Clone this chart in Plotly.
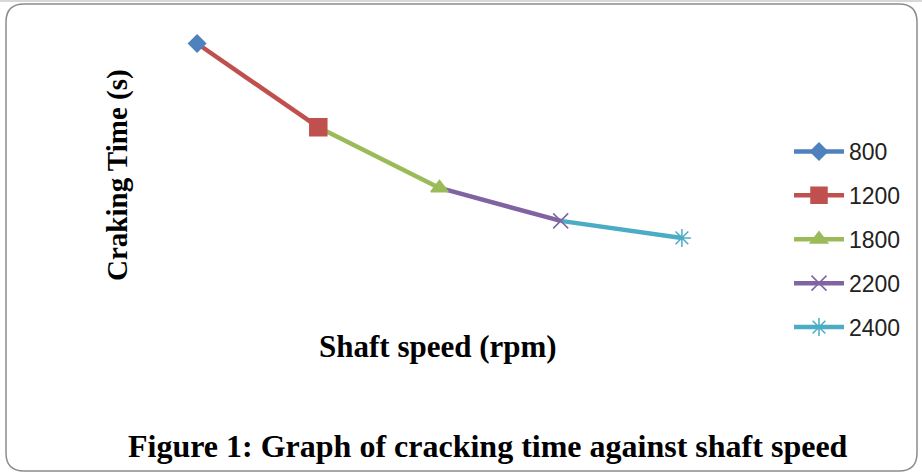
import plotly.graph_objects as go

W, H = 922, 474

series = ["800", "1200", "1800", "2200", "2400"]
cats = [1, 2, 3, 4, 5]
times = [95.0, 64.0, 41.5, 29.3, 23.0]
colors = ["#4F81BD", "#C0504D", "#9BBB59", "#8064A2", "#4BACC6"]
symbols = ["diamond", "square", "triangle-up", "x-thin-open", "asterisk-open"]
msizes = [13, 17, 15, 15, 15]

fig = go.Figure()

# segments: each series draws the line from the previous point to its own point
for i in range(1, len(series)):
    fig.add_trace(go.Scatter(
        x=[cats[i - 1], cats[i]], y=[times[i - 1], times[i]],
        mode="lines", line=dict(color=colors[i], width=4.5),
        showlegend=False, hoverinfo="skip"))

for i, s in enumerate(series):
    fig.add_trace(go.Scatter(
        x=[cats[i]], y=[times[i]], name=s, legendgroup=s,
        mode="lines+markers",
        line=dict(color=colors[i], width=4.5),
        marker=dict(symbol=symbols[i], size=msizes[i], color=colors[i],
                    line=dict(color=colors[i], width=1.5))))

def px(x):
    return x / W

def py(y):
    return 1 - y / H

# rounded frame
x0, y0, x1, y1, r = 6, 4, 917, 471, 18
path = (f"M {px(x0+r)},{py(y0)} L {px(x1-r)},{py(y0)} "
        f"Q {px(x1)},{py(y0)} {px(x1)},{py(y0+r)} "
        f"L {px(x1)},{py(y1-r)} Q {px(x1)},{py(y1)} {px(x1-r)},{py(y1)} "
        f"L {px(x0+r)},{py(y1)} Q {px(x0)},{py(y1)} {px(x0)},{py(y1-r)} "
        f"L {px(x0)},{py(y0+r)} Q {px(x0)},{py(y0)} {px(x0+r)},{py(y0)} Z")
fig.add_shape(type="path", path=path, xref="paper", yref="paper",
              line=dict(color="#8C8C8C", width=1.5), layer="below")
fig.add_shape(type="line", xref="paper", yref="paper",
              x0=0, x1=1, y0=py(1), y1=py(1),
              line=dict(color="#B0B0B0", width=1))

serif = "Liberation Serif"
fig.add_annotation(text="<b>Craking Time (s)</b>", textangle=-90,
                   x=px(117), y=py(175), xref="paper", yref="paper",
                   xanchor="center", yanchor="middle",
                   showarrow=False, font=dict(family=serif, size=29, color="black"))
fig.add_annotation(text="<b>Shaft speed (rpm)</b>",
                   x=px(438), y=py(346), xref="paper", yref="paper",
                   xanchor="center", yanchor="middle",
                   showarrow=False, font=dict(family=serif, size=31, color="black"))
fig.add_annotation(text="<b>Figure 1: Graph of cracking time against shaft speed</b>",
                   x=px(488), y=py(446), xref="paper", yref="paper",
                   xanchor="center", yanchor="middle",
                   showarrow=False, font=dict(family=serif, size=32, color="black"))

fig.update_layout(
    width=W, height=H,
    margin=dict(l=0, r=0, t=0, b=0),
    paper_bgcolor="white", plot_bgcolor="white",
    xaxis=dict(domain=[px(136.5), px(742.5)], range=[0.5, 5.5],
               visible=False, fixedrange=True),
    yaxis=dict(domain=[py(300), py(30)], range=[0, 100],
               visible=False, fixedrange=True),
    showlegend=True,
    legend=dict(x=px(789), y=py(130), xanchor="left", yanchor="top",
                font=dict(family="Liberation Sans", size=23, color="#222"),
                traceorder="grouped", tracegroupgap=11,
                bgcolor="rgba(0,0,0,0)", itemwidth=50),
)

fig.write_html("out.html", config={"displayModeBar": False},
               post_script="document.body.style.margin='0';document.body.style.padding='0';")
